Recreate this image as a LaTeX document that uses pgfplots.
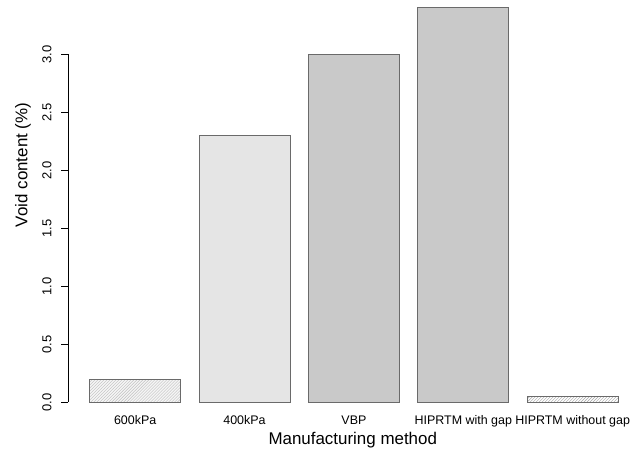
\documentclass[border=0pt]{standalone}
\usepackage{fontspec}
\setmainfont{Liberation Sans}
\usepackage{pgfplots}
\pgfplotsset{compat=1.18}
\usetikzlibrary{patterns}
\definecolor{barline}{HTML}{6A6A6A}
\begin{document}
\begin{tikzpicture}
\useasboundingbox (0,0) rectangle (640bp,454bp);
\begin{axis}[
  at={(68.4bp,36bp)}, anchor=south west,
  scale only axis, width=571bp, height=417.7bp,
  xmin=-0.61, xmax=4.61, ymin=-0.136, ymax=3.465,
  clip=false,
  axis x line*=bottom, axis y line*=left,
  x axis line style={draw=none}, y axis line style={draw=none},
  xtick={0,1,2,3,4},
  xticklabels={600kPa,400kPa,VBP,HIPRTM with gap,HIPRTM without gap},
  x tick style={draw=none},
  ytick={0,0.5,1,1.5,2,2.5,3},
  tick align=outside, major tick length=7bp,
  y tick style={black, line width=0.8bp},
  /pgf/number format/assume math mode=true,
  /pgf/number format/.cd, fixed, fixed zerofill, precision=1, /pgfplots/.cd,
  yticklabel style={rotate=90, anchor=base, yshift=10bp, font=\fontsize{13}{15}\selectfont},
  xticklabel style={anchor=base, yshift=1bp, font=\fontsize{12.5}{14}\selectfont},
  xlabel={Manufacturing method},
  ylabel={Void content (\%)},
  xlabel style={at={(axis description cs:0.498,-0.0646)}, anchor=base, font=\fontsize{17}{20}\selectfont},
  ylabel style={at={(axis description cs:-0.0795,0.606)}, anchor=center, font=\fontsize{17}{20}\selectfont},
  every axis plot/.append style={ybar, bar width=0.8333, bar shift=0pt, draw=barline, line width=0.8bp},
]
\addplot[fill=black!4, postaction={pattern=north east lines, pattern color=gray!50}] coordinates {(0,0.2)};
\addplot[fill=black!10] coordinates {(1,2.3)};
\addplot[fill=black!21] coordinates {(2,3.0)};
\addplot[fill=black!21] coordinates {(3,3.4)};
\addplot[fill=white, postaction={pattern=north east lines, pattern color=gray!70}] coordinates {(4,0.05)};
\draw[black, line width=0.8bp] (axis cs:-0.61,0) -- (axis cs:-0.61,3);
\end{axis}
\end{tikzpicture}
\end{document}
